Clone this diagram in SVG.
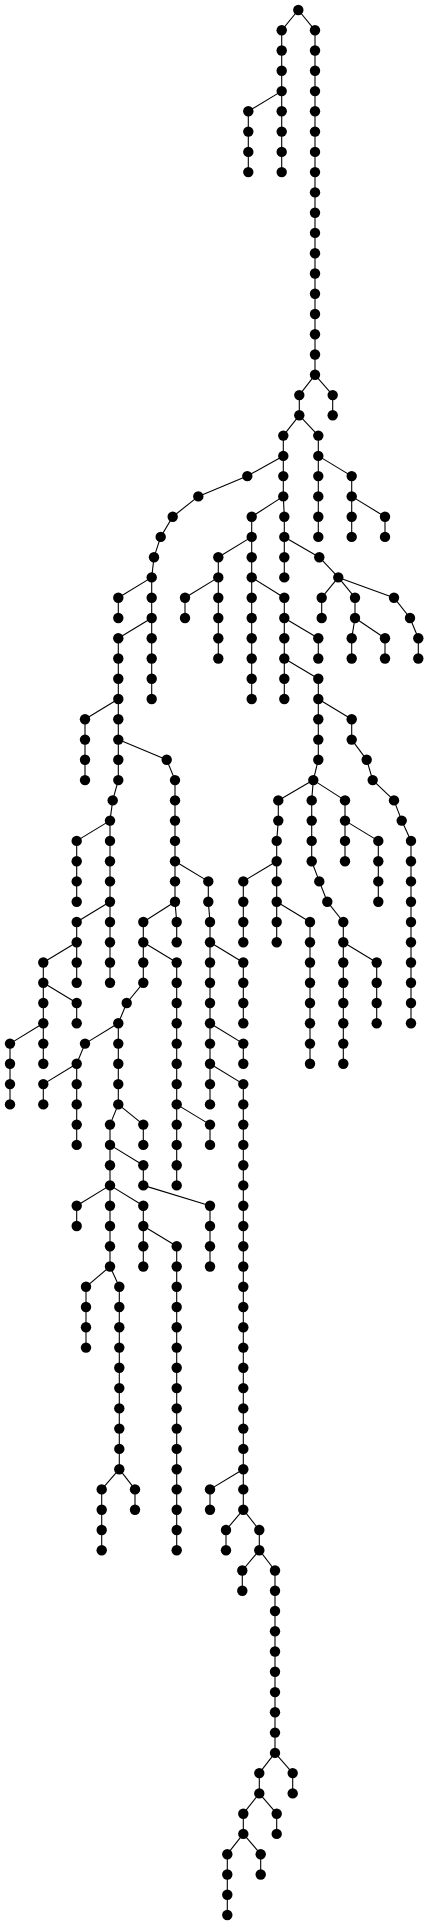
<svg xmlns="http://www.w3.org/2000/svg" width="428" height="1925" viewBox="0 0 428 1925">
<style>
.e path{stroke:#000;stroke-width:1.1;fill:none}
.n circle{fill:#000}
</style>
<rect width="428" height="1925" fill="#fff"/>
<g id="connectors" class="e">
<path d="M298.3 10L281.7 30.3"/><path d="M298.3 10L315 30.3"/>
<path d="M281.7 30.3V50.5"/><path d="M281.7 50.5V70.8"/><path d="M281.7 70.8V91.1"/><path d="M281.7 91.1V111.3"/><path d="M281.7 111.3V131.6"/><path d="M281.7 131.6V151.9"/><path d="M281.7 151.9V172.1"/>
<path d="M281.7 91.1L248.3 111.3"/><path d="M248.3 111.3V131.6"/><path d="M248.3 131.6V151.9"/><path d="M248.3 151.9V172.1"/>
<path d="M315 30.3V50.5"/><path d="M315 50.5V70.8"/><path d="M315 70.8V91.1"/><path d="M315 91.1V111.3"/><path d="M315 111.3V131.6"/><path d="M315 131.6V151.9"/><path d="M315 151.9V172.1"/><path d="M315 172.1V192.4"/><path d="M315 192.4V212.7"/><path d="M315 212.7V232.9"/><path d="M315 232.9V253.2"/><path d="M315 253.2V273.5"/><path d="M315 273.5V293.7"/><path d="M315 293.7V314"/><path d="M315 314V334.3"/><path d="M315 334.3V354.5"/><path d="M315 354.5V374.8"/>
<path d="M315 374.8L299.3 395.1"/><path d="M315 374.8L332.7 395.1"/><path d="M332.7 395.1V415.3"/><path d="M299.3 395.1V415.3"/>
<path d="M299.3 415.3L283.3 435.6"/><path d="M299.3 415.3L318.3 435.6"/>
<path d="M283.3 435.6V455.9"/><path d="M283.3 455.9L247.3 476.1"/><path d="M283.3 455.9V476.1"/><path d="M283.3 476.1V496.4"/><path d="M283.3 496.4L251.7 516.7"/><path d="M283.3 496.4L284.3 516.7"/>
<path d="M318.3 435.6V455.9"/><path d="M318.3 455.9V476.1"/><path d="M318.3 455.9L351.7 476.1"/><path d="M318.3 476.1V496.4"/><path d="M318.3 496.4V516.7"/><path d="M318.3 516.7V536.9"/>
<path d="M351.7 476.1V496.4"/><path d="M351.7 496.4V516.7"/><path d="M351.7 496.4L385 516.7"/><path d="M351.7 516.7V536.9"/><path d="M385 516.7V536.9"/>
<path d="M247.3 476.1L198.3 496.4"/><path d="M198.3 496.4L172.7 516.7"/><path d="M172.7 516.7L160.7 536.9"/><path d="M160.7 536.9L154 557.2"/><path d="M154 557.2L151.7 577.4"/>
<path d="M151.7 577.4L118.3 597.7"/><path d="M151.7 577.4V597.7"/><path d="M118.3 597.7V618"/><path d="M151.7 597.7V618"/>
<path d="M151.7 618L118.3 638.2"/><path d="M151.7 618V638.2"/><path d="M151.7 638.2V658.5"/><path d="M151.7 658.5V678.8"/><path d="M151.7 678.8V699"/>
<path d="M118.3 638.2V658.5"/><path d="M118.3 658.5V678.8"/><path d="M118.3 678.8V699"/><path d="M118.3 699L85 719.3"/><path d="M118.3 699V719.3"/>
<path d="M85 719.3V739.6"/><path d="M85 739.6V759.8"/><path d="M85 759.8V780.1"/>
<path d="M118.3 719.3V739.6"/><path d="M118.3 739.6V759.8"/><path d="M118.3 739.6L166.7 759.8"/><path d="M118.3 759.8V780.1"/>
<path d="M118.3 780.1L112.7 800.4"/><path d="M112.7 800.4L110 820.6"/><path d="M110 820.6L76.7 840.9"/><path d="M110 820.6V840.9"/>
<path d="M76.7 840.9V861.2"/><path d="M76.7 861.2V881.4"/><path d="M76.7 881.4V901.7"/>
<path d="M110 840.9V861.2"/><path d="M110 861.2V881.4"/><path d="M110 881.4V901.7"/><path d="M110 901.7L76.7 922"/><path d="M110 901.7V922"/>
<path d="M110 922V942.2"/><path d="M110 942.2V962.5"/><path d="M110 962.5V982.8"/>
<path d="M76.7 922V942.2"/><path d="M76.7 942.2L43.3 962.5"/><path d="M76.7 942.2V962.5"/><path d="M76.7 962.5V982.8"/>
<path d="M43.3 962.5V982.8"/><path d="M43.3 982.8V1003"/><path d="M43.3 982.8L76.7 1003"/><path d="M76.7 1003V1023.3"/><path d="M43.3 1003V1023.3"/>
<path d="M43.3 1023.3L10 1043.6"/><path d="M43.3 1023.3V1043.6"/><path d="M10 1043.6V1063.8"/><path d="M10 1063.8V1084.1"/><path d="M10 1084.1V1104.4"/><path d="M43.3 1043.6V1063.8"/>
<path d="M166.7 759.8L175 780.1"/><path d="M175 780.1V800.4"/><path d="M175 800.4V820.6"/><path d="M175 820.6V840.9"/><path d="M175 840.9V861.2"/><path d="M175 861.2V881.4"/><path d="M175 881.4V901.7"/>
<path d="M175 861.2L208.3 881.4"/><path d="M175 901.7L143.3 922"/><path d="M175 901.7L176.7 922"/><path d="M176.7 922V942.2"/>
<path d="M143.3 922V942.2"/><path d="M143.3 942.2V962.5"/><path d="M143.3 942.2L176.7 962.5"/><path d="M143.3 962.5V982.8"/>
<path d="M143.3 982.8L126.7 1003"/><path d="M126.7 1003L118.3 1023.3"/><path d="M118.3 1023.3L85 1043.6"/><path d="M118.3 1023.3V1043.6"/>
<path d="M85 1043.6L76.7 1063.8"/><path d="M76.7 1063.8L43.3 1084.1"/><path d="M76.7 1063.8V1084.1"/><path d="M43.3 1084.1V1104.4"/>
<path d="M76.7 1084.1V1104.4"/><path d="M76.7 1104.4V1124.6"/><path d="M76.7 1124.6V1144.9"/>
<path d="M118.3 1043.6V1063.8"/><path d="M118.3 1063.8V1084.1"/><path d="M118.3 1084.1V1104.4"/><path d="M118.3 1104.4L110 1124.6"/><path d="M118.3 1104.4L143.3 1124.6"/><path d="M143.3 1124.6V1144.9"/>
<path d="M110 1124.6V1144.9"/><path d="M110 1144.9V1165.2"/><path d="M110 1144.9L143.3 1165.2"/><path d="M143.3 1165.2V1185.4"/><path d="M143.3 1185.4L210 1205.7"/>
<path d="M210 1205.7V1226"/><path d="M210 1226V1246.2"/><path d="M210 1246.2V1266.5"/>
<path d="M110 1165.2V1185.4"/><path d="M110 1185.4L76.7 1205.7"/><path d="M110 1185.4V1205.7"/><path d="M110 1185.4L143.3 1205.7"/><path d="M76.7 1205.7V1226"/>
<path d="M143.3 1205.7V1226"/><path d="M143.3 1226V1246.2"/><path d="M143.3 1226L176.7 1246.2"/><path d="M143.3 1246.2V1266.5"/>
<path d="M176.7 1246.2V1266.5"/><path d="M176.7 1266.5V1286.8"/><path d="M176.7 1286.8V1307"/><path d="M176.7 1307V1327.3"/><path d="M176.7 1327.3V1347.6"/><path d="M176.7 1347.6V1367.8"/><path d="M176.7 1367.8V1388.1"/><path d="M176.7 1388.1V1408.4"/><path d="M176.7 1408.4V1428.6"/><path d="M176.7 1428.6V1448.9"/><path d="M176.7 1448.9V1469.2"/><path d="M176.7 1469.2V1489.4"/><path d="M176.7 1489.4V1509.7"/><path d="M176.7 1509.7V1530"/><path d="M176.7 1530V1550.2"/>
<path d="M110 1205.7V1226"/><path d="M110 1226V1246.2"/><path d="M110 1246.2V1266.5"/><path d="M110 1266.5L86 1286.8"/><path d="M110 1266.5L119.3 1286.8"/>
<path d="M86 1286.8V1307"/><path d="M86 1307V1327.3"/><path d="M86 1327.3V1347.6"/>
<path d="M119.3 1286.8V1307"/><path d="M119.3 1307V1327.3"/><path d="M119.3 1327.3V1347.6"/><path d="M119.3 1347.6V1367.8"/><path d="M119.3 1367.8V1388.1"/><path d="M119.3 1388.1V1408.4"/><path d="M119.3 1408.4V1428.6"/><path d="M119.3 1428.6V1448.9"/><path d="M119.3 1448.9V1469.2"/>
<path d="M119.3 1469.2L101.7 1489.4"/><path d="M119.3 1469.2L135 1489.4"/><path d="M101.7 1489.4V1509.7"/><path d="M101.7 1509.7V1530"/><path d="M101.7 1530V1550.2"/><path d="M135 1489.4V1509.7"/>
<path d="M176.7 962.5V982.8"/><path d="M176.7 982.8V1003"/><path d="M176.7 1003V1023.3"/><path d="M176.7 1023.3V1043.6"/><path d="M176.7 1043.6V1063.8"/><path d="M176.7 1063.8V1084.1"/><path d="M176.7 1084.1V1104.4"/><path d="M176.7 1104.4V1124.6"/><path d="M176.7 1124.6V1144.9"/><path d="M176.7 1144.9V1165.2"/><path d="M176.7 1165.2V1185.4"/>
<path d="M176.7 1104.4L210 1124.6"/><path d="M210 1124.6V1144.9"/>
<path d="M208.3 881.4V901.7"/><path d="M208.3 901.7L210 922"/><path d="M210 922V942.2"/><path d="M210 942.2V962.5"/><path d="M210 962.5V982.8"/><path d="M210 982.8V1003"/><path d="M210 1003V1023.3"/><path d="M210 1023.3V1043.6"/><path d="M210 1043.6V1063.8"/><path d="M210 1063.8V1084.1"/><path d="M210 1084.1V1104.4"/>
<path d="M210 942.2L243.3 962.5"/><path d="M243.3 962.5V982.8"/><path d="M243.3 982.8V1003"/><path d="M243.3 1003V1023.3"/>
<path d="M210 1023.3L243.3 1043.6"/><path d="M243.3 1043.6V1063.8"/><path d="M210 1063.8L243.3 1084.1"/>
<path d="M243.3 1084.1V1104.4"/><path d="M243.3 1104.4V1124.6"/><path d="M243.3 1124.6V1144.9"/><path d="M243.3 1144.9V1165.2"/><path d="M243.3 1165.2V1185.4"/><path d="M243.3 1185.4V1205.7"/><path d="M243.3 1205.7V1226"/><path d="M243.3 1226V1246.2"/><path d="M243.3 1246.2V1266.5"/><path d="M243.3 1266.5V1286.8"/><path d="M243.3 1286.8V1307"/><path d="M243.3 1307V1327.3"/><path d="M243.3 1327.3V1347.6"/><path d="M243.3 1347.6V1367.8"/><path d="M243.3 1367.8V1388.1"/><path d="M243.3 1388.1V1408.4"/><path d="M243.3 1408.4V1428.6"/><path d="M243.3 1428.6V1448.9"/><path d="M243.3 1448.9V1469.2"/><path d="M243.3 1469.2V1489.4"/><path d="M243.3 1489.4V1509.7"/>
<path d="M243.3 1469.2L210 1489.4"/><path d="M210 1489.4V1509.7"/>
<path d="M243.3 1509.7L226 1530"/><path d="M243.3 1509.7L259.3 1530"/><path d="M226 1530V1550.2"/><path d="M259.3 1530V1550.2"/>
<path d="M259.3 1550.2L242.3 1570.5"/><path d="M259.3 1550.2L275 1570.5"/><path d="M242.3 1570.5V1590.7"/>
<path d="M275 1570.5V1590.7"/><path d="M275 1590.7V1611"/><path d="M275 1611V1631.3"/><path d="M275 1631.3V1651.5"/><path d="M275 1651.5V1671.8"/><path d="M275 1671.8V1692.1"/><path d="M275 1692.1V1712.3"/><path d="M275 1712.3V1732.6"/><path d="M275 1732.6V1752.9"/>
<path d="M275 1752.9L259.3 1773.1"/><path d="M275 1752.9L292.7 1773.1"/><path d="M292.7 1773.1V1793.4"/><path d="M259.3 1773.1V1793.4"/>
<path d="M259.3 1793.4L243.3 1813.7"/><path d="M259.3 1793.4L276.7 1813.7"/><path d="M276.7 1813.7V1833.9"/><path d="M243.3 1813.7V1833.9"/>
<path d="M243.3 1833.9L227.3 1854.2"/><path d="M243.3 1833.9L260.7 1854.2"/><path d="M260.7 1854.2V1874.5"/>
<path d="M227.3 1854.2V1874.5"/><path d="M227.3 1874.5V1894.7"/><path d="M227.3 1894.7V1915"/>
<path d="M284.3 516.7V536.9"/><path d="M284.3 536.9V557.2"/><path d="M284.3 536.9L319.3 557.2"/><path d="M284.3 557.2V577.4"/>
<path d="M319.3 557.2L338.3 577.4"/><path d="M338.3 577.4L321.7 597.7"/><path d="M338.3 577.4L355 597.7"/><path d="M338.3 577.4L394 597.7"/>
<path d="M321.7 597.7V618"/><path d="M355 597.7V618"/><path d="M355 618L351.7 638.2"/><path d="M355 618L385 638.2"/><path d="M351.7 638.2V658.5"/><path d="M385 638.2V658.5"/>
<path d="M394 597.7L410 618"/><path d="M410 618L418.3 638.2"/><path d="M418.3 638.2V658.5"/>
<path d="M251.7 516.7V536.9"/><path d="M251.7 536.9L218.3 557.2"/><path d="M251.7 536.9V557.2"/>
<path d="M218.3 557.2V577.4"/><path d="M218.3 577.4L185 597.7"/><path d="M218.3 577.4V597.7"/><path d="M185 597.7V618"/>
<path d="M218.3 597.7V618"/><path d="M218.3 618V638.2"/><path d="M218.3 638.2V658.5"/>
<path d="M251.7 557.2V577.4"/><path d="M251.7 577.4V597.7"/><path d="M251.7 577.4L284.3 597.7"/>
<path d="M251.7 597.7V618"/><path d="M251.7 618V638.2"/><path d="M251.7 638.2V658.5"/><path d="M251.7 658.5V678.8"/><path d="M251.7 678.8V699"/>
<path d="M284.3 597.7V618"/><path d="M284.3 618V638.2"/><path d="M284.3 618L318.3 638.2"/><path d="M318.3 638.2V658.5"/>
<path d="M284.3 638.2V658.5"/><path d="M284.3 658.5V678.8"/><path d="M284.3 658.5L318.3 678.8"/><path d="M284.3 678.8V699"/>
<path d="M318.3 678.8V699"/><path d="M318.3 699V719.3"/><path d="M318.3 699L351.7 719.3"/><path d="M318.3 719.3V739.6"/><path d="M318.3 739.6V759.8"/>
<path d="M318.3 759.8L313.3 780.1"/><path d="M313.3 780.1L278.3 800.4"/><path d="M313.3 780.1L311.7 800.4"/><path d="M313.3 780.1L345 800.4"/>
<path d="M351.7 719.3V739.6"/><path d="M351.7 739.6L366.7 759.8"/><path d="M366.7 759.8L372.7 780.1"/><path d="M372.7 780.1L394 800.4"/><path d="M394 800.4L401.7 820.6"/><path d="M401.7 820.6L411 840.9"/>
<path d="M411 840.9V861.2"/><path d="M411 861.2V881.4"/><path d="M411 881.4V901.7"/><path d="M411 901.7V922"/><path d="M411 922V942.2"/><path d="M411 942.2V962.5"/><path d="M411 962.5V982.8"/><path d="M411 982.8V1003"/><path d="M411 1003V1023.3"/>
<path d="M278.3 800.4V820.6"/><path d="M278.3 820.6L276.7 840.9"/><path d="M276.7 840.9V861.2"/><path d="M276.7 861.2L243.3 881.4"/><path d="M276.7 861.2V881.4"/>
<path d="M243.3 881.4V901.7"/><path d="M243.3 901.7V922"/><path d="M243.3 922V942.2"/>
<path d="M276.7 881.4V901.7"/><path d="M276.7 901.7V922"/><path d="M276.7 901.7L310 922"/><path d="M276.7 922V942.2"/>
<path d="M310 922V942.2"/><path d="M310 942.2V962.5"/><path d="M310 962.5V982.8"/><path d="M310 982.8V1003"/><path d="M310 1003V1023.3"/><path d="M310 1023.3V1043.6"/><path d="M310 1043.6V1063.8"/>
<path d="M311.7 800.4V820.6"/><path d="M311.7 820.6V840.9"/><path d="M311.7 840.9V861.2"/><path d="M311.7 861.2L319.3 881.4"/><path d="M319.3 881.4L327.3 901.7"/><path d="M327.3 901.7L343.3 922"/>
<path d="M343.3 922V942.2"/><path d="M343.3 942.2V962.5"/><path d="M343.3 942.2L376.7 962.5"/>
<path d="M343.3 962.5V982.8"/><path d="M343.3 982.8V1003"/><path d="M343.3 1003V1023.3"/><path d="M343.3 1023.3V1043.6"/><path d="M343.3 1043.6V1063.8"/>
<path d="M376.7 962.5V982.8"/><path d="M376.7 982.8V1003"/><path d="M376.7 1003V1023.3"/>
<path d="M345 800.4V820.6"/><path d="M345 820.6V840.9"/><path d="M345 820.6L378.3 840.9"/><path d="M345 840.9V861.2"/>
<path d="M378.3 840.9V861.2"/><path d="M378.3 861.2V881.4"/><path d="M378.3 881.4V901.7"/>
</g>
<g id="nodes" class="n">
<g id="n0"><circle cx="298.3" cy="10" r="5.2"/></g>
<g id="n-a1"><circle cx="281.7" cy="30.3" r="5.2"/></g><g id="n-a2"><circle cx="281.7" cy="50.5" r="5.2"/></g><g id="n-a3"><circle cx="281.7" cy="70.8" r="5.2"/></g><g id="n-a4"><circle cx="281.7" cy="91.1" r="5.2"/></g><g id="n-a5"><circle cx="281.7" cy="111.3" r="5.2"/></g><g id="n-a6"><circle cx="281.7" cy="131.6" r="5.2"/></g><g id="n-a7"><circle cx="281.7" cy="151.9" r="5.2"/></g><g id="n-a8"><circle cx="281.7" cy="172.1" r="5.2"/></g>
<g id="n-b5"><circle cx="248.3" cy="111.3" r="5.2"/></g><g id="n-b6"><circle cx="248.3" cy="131.6" r="5.2"/></g><g id="n-b7"><circle cx="248.3" cy="151.9" r="5.2"/></g><g id="n-b8"><circle cx="248.3" cy="172.1" r="5.2"/></g>
<g id="n-c1"><circle cx="315" cy="30.3" r="5.2"/></g><g id="n-c2"><circle cx="315" cy="50.5" r="5.2"/></g><g id="n-c3"><circle cx="315" cy="70.8" r="5.2"/></g><g id="n-c4"><circle cx="315" cy="91.1" r="5.2"/></g><g id="n-c5"><circle cx="315" cy="111.3" r="5.2"/></g><g id="n-c6"><circle cx="315" cy="131.6" r="5.2"/></g><g id="n-c7"><circle cx="315" cy="151.9" r="5.2"/></g><g id="n-c8"><circle cx="315" cy="172.1" r="5.2"/></g><g id="n-c9"><circle cx="315" cy="192.4" r="5.2"/></g><g id="n-c10"><circle cx="315" cy="212.7" r="5.2"/></g><g id="n-c11"><circle cx="315" cy="232.9" r="5.2"/></g><g id="n-c12"><circle cx="315" cy="253.2" r="5.2"/></g><g id="n-c13"><circle cx="315" cy="273.5" r="5.2"/></g><g id="n-c14"><circle cx="315" cy="293.7" r="5.2"/></g><g id="n-c15"><circle cx="315" cy="314" r="5.2"/></g><g id="n-c16"><circle cx="315" cy="334.3" r="5.2"/></g><g id="n-c17"><circle cx="315" cy="354.5" r="5.2"/></g><g id="n-c18"><circle cx="315" cy="374.8" r="5.2"/></g>
<g id="n-d19"><circle cx="299.3" cy="395.1" r="5.2"/></g><g id="n-d20"><circle cx="299.3" cy="415.3" r="5.2"/></g>
<g id="n-e19"><circle cx="332.7" cy="395.1" r="5.2"/></g><g id="n-e20"><circle cx="332.7" cy="415.3" r="5.2"/></g>
<g id="n-f21"><circle cx="283.3" cy="435.6" r="5.2"/></g><g id="n-f22"><circle cx="283.3" cy="455.9" r="5.2"/></g><g id="n-f23"><circle cx="283.3" cy="476.1" r="5.2"/></g><g id="n-f24"><circle cx="283.3" cy="496.4" r="5.2"/></g>
<g id="n-g21"><circle cx="318.3" cy="435.6" r="5.2"/></g><g id="n-g22"><circle cx="318.3" cy="455.9" r="5.2"/></g><g id="n-g23"><circle cx="318.3" cy="476.1" r="5.2"/></g><g id="n-g24"><circle cx="318.3" cy="496.4" r="5.2"/></g><g id="n-g25"><circle cx="318.3" cy="516.7" r="5.2"/></g><g id="n-g26"><circle cx="318.3" cy="536.9" r="5.2"/></g>
<g id="n-h23"><circle cx="247.3" cy="476.1" r="5.2"/></g>
<g id="n-i23"><circle cx="351.7" cy="476.1" r="5.2"/></g><g id="n-i24"><circle cx="351.7" cy="496.4" r="5.2"/></g><g id="n-i25"><circle cx="351.7" cy="516.7" r="5.2"/></g><g id="n-i26"><circle cx="351.7" cy="536.9" r="5.2"/></g>
<g id="n-j25"><circle cx="385" cy="516.7" r="5.2"/></g><g id="n-j26"><circle cx="385" cy="536.9" r="5.2"/></g>
<g id="n-k24"><circle cx="198.3" cy="496.4" r="5.2"/></g><g id="n-k25"><circle cx="172.7" cy="516.7" r="5.2"/></g><g id="n-k26"><circle cx="160.7" cy="536.9" r="5.2"/></g><g id="n-k27"><circle cx="154" cy="557.2" r="5.2"/></g><g id="n-k28"><circle cx="151.7" cy="577.4" r="5.2"/></g><g id="n-k29"><circle cx="151.7" cy="597.7" r="5.2"/></g><g id="n-k30"><circle cx="151.7" cy="618" r="5.2"/></g><g id="n-k31"><circle cx="151.7" cy="638.2" r="5.2"/></g><g id="n-k32"><circle cx="151.7" cy="658.5" r="5.2"/></g><g id="n-k33"><circle cx="151.7" cy="678.8" r="5.2"/></g><g id="n-k34"><circle cx="151.7" cy="699" r="5.2"/></g>
<g id="n-l25"><circle cx="251.7" cy="516.7" r="5.2"/></g><g id="n-l26"><circle cx="251.7" cy="536.9" r="5.2"/></g><g id="n-l27"><circle cx="251.7" cy="557.2" r="5.2"/></g><g id="n-l28"><circle cx="251.7" cy="577.4" r="5.2"/></g><g id="n-l29"><circle cx="251.7" cy="597.7" r="5.2"/></g><g id="n-l30"><circle cx="251.7" cy="618" r="5.2"/></g><g id="n-l31"><circle cx="251.7" cy="638.2" r="5.2"/></g><g id="n-l32"><circle cx="251.7" cy="658.5" r="5.2"/></g><g id="n-l33"><circle cx="251.7" cy="678.8" r="5.2"/></g><g id="n-l34"><circle cx="251.7" cy="699" r="5.2"/></g>
<g id="n-m25"><circle cx="284.3" cy="516.7" r="5.2"/></g><g id="n-m26"><circle cx="284.3" cy="536.9" r="5.2"/></g><g id="n-m27"><circle cx="284.3" cy="557.2" r="5.2"/></g><g id="n-m28"><circle cx="284.3" cy="577.4" r="5.2"/></g>
<g id="n-o27"><circle cx="319.3" cy="557.2" r="5.2"/></g><g id="n-p28"><circle cx="338.3" cy="577.4" r="5.2"/></g>
<g id="n-q29"><circle cx="321.7" cy="597.7" r="5.2"/></g><g id="n-q30"><circle cx="321.7" cy="618" r="5.2"/></g>
<g id="n-s29"><circle cx="355" cy="597.7" r="5.2"/></g><g id="n-s30"><circle cx="355" cy="618" r="5.2"/></g>
<g id="n-t29"><circle cx="394" cy="597.7" r="5.2"/></g><g id="n-t30"><circle cx="410" cy="618" r="5.2"/></g><g id="n-t31"><circle cx="418.3" cy="638.2" r="5.2"/></g><g id="n-t32"><circle cx="418.3" cy="658.5" r="5.2"/></g>
<g id="n-u31"><circle cx="351.7" cy="638.2" r="5.2"/></g><g id="n-u32"><circle cx="351.7" cy="658.5" r="5.2"/></g>
<g id="n-v31"><circle cx="385" cy="638.2" r="5.2"/></g><g id="n-v32"><circle cx="385" cy="658.5" r="5.2"/></g>
<g id="n-w27"><circle cx="218.3" cy="557.2" r="5.2"/></g><g id="n-w28"><circle cx="218.3" cy="577.4" r="5.2"/></g><g id="n-w29"><circle cx="218.3" cy="597.7" r="5.2"/></g><g id="n-w30"><circle cx="218.3" cy="618" r="5.2"/></g><g id="n-w31"><circle cx="218.3" cy="638.2" r="5.2"/></g><g id="n-w32"><circle cx="218.3" cy="658.5" r="5.2"/></g>
<g id="n-x29"><circle cx="185" cy="597.7" r="5.2"/></g><g id="n-x30"><circle cx="185" cy="618" r="5.2"/></g>
<g id="n-y29"><circle cx="284.3" cy="597.7" r="5.2"/></g><g id="n-y30"><circle cx="284.3" cy="618" r="5.2"/></g><g id="n-y31"><circle cx="284.3" cy="638.2" r="5.2"/></g><g id="n-y32"><circle cx="284.3" cy="658.5" r="5.2"/></g><g id="n-y33"><circle cx="284.3" cy="678.8" r="5.2"/></g><g id="n-y34"><circle cx="284.3" cy="699" r="5.2"/></g>
<g id="n-z31"><circle cx="318.3" cy="638.2" r="5.2"/></g><g id="n-z32"><circle cx="318.3" cy="658.5" r="5.2"/></g>
<g id="n-aa33"><circle cx="318.3" cy="678.8" r="5.2"/></g><g id="n-aa34"><circle cx="318.3" cy="699" r="5.2"/></g><g id="n-aa35"><circle cx="318.3" cy="719.3" r="5.2"/></g><g id="n-aa36"><circle cx="318.3" cy="739.6" r="5.2"/></g><g id="n-aa37"><circle cx="318.3" cy="759.8" r="5.2"/></g>
<g id="n-bb35"><circle cx="351.7" cy="719.3" r="5.2"/></g><g id="n-bb36"><circle cx="351.7" cy="739.6" r="5.2"/></g>
<g id="n-cc38"><circle cx="313.3" cy="780.1" r="5.2"/></g>
<g id="n-dd39"><circle cx="278.3" cy="800.4" r="5.2"/></g><g id="n-dd40"><circle cx="278.3" cy="820.6" r="5.2"/></g><g id="n-dd41"><circle cx="276.7" cy="840.9" r="5.2"/></g><g id="n-dd42"><circle cx="276.7" cy="861.2" r="5.2"/></g><g id="n-dd43"><circle cx="276.7" cy="881.4" r="5.2"/></g><g id="n-dd44"><circle cx="276.7" cy="901.7" r="5.2"/></g><g id="n-dd45"><circle cx="276.7" cy="922" r="5.2"/></g><g id="n-dd46"><circle cx="276.7" cy="942.2" r="5.2"/></g>
<g id="n-ee39"><circle cx="311.7" cy="800.4" r="5.2"/></g><g id="n-ee40"><circle cx="311.7" cy="820.6" r="5.2"/></g><g id="n-ee41"><circle cx="311.7" cy="840.9" r="5.2"/></g><g id="n-ee42"><circle cx="311.7" cy="861.2" r="5.2"/></g>
<g id="n-ff39"><circle cx="345" cy="800.4" r="5.2"/></g><g id="n-ff40"><circle cx="345" cy="820.6" r="5.2"/></g><g id="n-ff41"><circle cx="345" cy="840.9" r="5.2"/></g><g id="n-ff42"><circle cx="345" cy="861.2" r="5.2"/></g>
<g id="n-gg37"><circle cx="366.7" cy="759.8" r="5.2"/></g><g id="n-gg38"><circle cx="372.7" cy="780.1" r="5.2"/></g><g id="n-gg39"><circle cx="394" cy="800.4" r="5.2"/></g><g id="n-gg40"><circle cx="401.7" cy="820.6" r="5.2"/></g><g id="n-gg41"><circle cx="411" cy="840.9" r="5.2"/></g><g id="n-gg42"><circle cx="411" cy="861.2" r="5.2"/></g><g id="n-gg43"><circle cx="411" cy="881.4" r="5.2"/></g><g id="n-gg44"><circle cx="411" cy="901.7" r="5.2"/></g><g id="n-gg45"><circle cx="411" cy="922" r="5.2"/></g><g id="n-gg46"><circle cx="411" cy="942.2" r="5.2"/></g><g id="n-gg47"><circle cx="411" cy="962.5" r="5.2"/></g><g id="n-gg48"><circle cx="411" cy="982.8" r="5.2"/></g><g id="n-gg49"><circle cx="411" cy="1003" r="5.2"/></g><g id="n-gg50"><circle cx="411" cy="1023.3" r="5.2"/></g>
<g id="n-hh43"><circle cx="243.3" cy="881.4" r="5.2"/></g><g id="n-hh44"><circle cx="243.3" cy="901.7" r="5.2"/></g><g id="n-hh45"><circle cx="243.3" cy="922" r="5.2"/></g><g id="n-hh46"><circle cx="243.3" cy="942.2" r="5.2"/></g>
<g id="n-ii45"><circle cx="310" cy="922" r="5.2"/></g><g id="n-ii46"><circle cx="310" cy="942.2" r="5.2"/></g><g id="n-ii47"><circle cx="310" cy="962.5" r="5.2"/></g><g id="n-ii48"><circle cx="310" cy="982.8" r="5.2"/></g><g id="n-ii49"><circle cx="310" cy="1003" r="5.2"/></g><g id="n-ii50"><circle cx="310" cy="1023.3" r="5.2"/></g><g id="n-ii51"><circle cx="310" cy="1043.6" r="5.2"/></g><g id="n-ii52"><circle cx="310" cy="1063.8" r="5.2"/></g>
<g id="n-jj43"><circle cx="319.3" cy="881.4" r="5.2"/></g><g id="n-jj44"><circle cx="327.3" cy="901.7" r="5.2"/></g><g id="n-jj45"><circle cx="343.3" cy="922" r="5.2"/></g><g id="n-jj46"><circle cx="343.3" cy="942.2" r="5.2"/></g><g id="n-jj47"><circle cx="343.3" cy="962.5" r="5.2"/></g><g id="n-jj48"><circle cx="343.3" cy="982.8" r="5.2"/></g><g id="n-jj49"><circle cx="343.3" cy="1003" r="5.2"/></g><g id="n-jj50"><circle cx="343.3" cy="1023.3" r="5.2"/></g><g id="n-jj51"><circle cx="343.3" cy="1043.6" r="5.2"/></g><g id="n-jj52"><circle cx="343.3" cy="1063.8" r="5.2"/></g>
<g id="n-kk47"><circle cx="376.7" cy="962.5" r="5.2"/></g><g id="n-kk48"><circle cx="376.7" cy="982.8" r="5.2"/></g><g id="n-kk49"><circle cx="376.7" cy="1003" r="5.2"/></g><g id="n-kk50"><circle cx="376.7" cy="1023.3" r="5.2"/></g>
<g id="n-ll41"><circle cx="378.3" cy="840.9" r="5.2"/></g><g id="n-ll42"><circle cx="378.3" cy="861.2" r="5.2"/></g><g id="n-ll43"><circle cx="378.3" cy="881.4" r="5.2"/></g><g id="n-ll44"><circle cx="378.3" cy="901.7" r="5.2"/></g>
<g id="n-mm29"><circle cx="118.3" cy="597.7" r="5.2"/></g><g id="n-mm30"><circle cx="118.3" cy="618" r="5.2"/></g>
<g id="n-nn31"><circle cx="118.3" cy="638.2" r="5.2"/></g><g id="n-nn32"><circle cx="118.3" cy="658.5" r="5.2"/></g><g id="n-nn33"><circle cx="118.3" cy="678.8" r="5.2"/></g><g id="n-nn34"><circle cx="118.3" cy="699" r="5.2"/></g><g id="n-nn35"><circle cx="118.3" cy="719.3" r="5.2"/></g><g id="n-nn36"><circle cx="118.3" cy="739.6" r="5.2"/></g><g id="n-nn37"><circle cx="118.3" cy="759.8" r="5.2"/></g><g id="n-nn38"><circle cx="118.3" cy="780.1" r="5.2"/></g>
<g id="n-oo35"><circle cx="85" cy="719.3" r="5.2"/></g><g id="n-oo36"><circle cx="85" cy="739.6" r="5.2"/></g><g id="n-oo37"><circle cx="85" cy="759.8" r="5.2"/></g><g id="n-oo38"><circle cx="85" cy="780.1" r="5.2"/></g>
<g id="n-pp37"><circle cx="166.7" cy="759.8" r="5.2"/></g><g id="n-pp38"><circle cx="175" cy="780.1" r="5.2"/></g><g id="n-pp39"><circle cx="175" cy="800.4" r="5.2"/></g><g id="n-pp40"><circle cx="175" cy="820.6" r="5.2"/></g><g id="n-pp41"><circle cx="175" cy="840.9" r="5.2"/></g><g id="n-pp42"><circle cx="175" cy="861.2" r="5.2"/></g><g id="n-pp43"><circle cx="175" cy="881.4" r="5.2"/></g><g id="n-pp44"><circle cx="175" cy="901.7" r="5.2"/></g>
<g id="n-qq39"><circle cx="112.7" cy="800.4" r="5.2"/></g><g id="n-qq40"><circle cx="110" cy="820.6" r="5.2"/></g><g id="n-qq41"><circle cx="110" cy="840.9" r="5.2"/></g><g id="n-qq42"><circle cx="110" cy="861.2" r="5.2"/></g><g id="n-qq43"><circle cx="110" cy="881.4" r="5.2"/></g><g id="n-qq44"><circle cx="110" cy="901.7" r="5.2"/></g><g id="n-qq45"><circle cx="110" cy="922" r="5.2"/></g><g id="n-qq46"><circle cx="110" cy="942.2" r="5.2"/></g><g id="n-qq47"><circle cx="110" cy="962.5" r="5.2"/></g><g id="n-qq48"><circle cx="110" cy="982.8" r="5.2"/></g>
<g id="n-rr41"><circle cx="76.7" cy="840.9" r="5.2"/></g><g id="n-rr42"><circle cx="76.7" cy="861.2" r="5.2"/></g><g id="n-rr43"><circle cx="76.7" cy="881.4" r="5.2"/></g><g id="n-rr44"><circle cx="76.7" cy="901.7" r="5.2"/></g>
<g id="n-ss45"><circle cx="76.7" cy="922" r="5.2"/></g><g id="n-ss46"><circle cx="76.7" cy="942.2" r="5.2"/></g><g id="n-ss47"><circle cx="76.7" cy="962.5" r="5.2"/></g><g id="n-ss48"><circle cx="76.7" cy="982.8" r="5.2"/></g>
<g id="n-tt47"><circle cx="43.3" cy="962.5" r="5.2"/></g><g id="n-tt48"><circle cx="43.3" cy="982.8" r="5.2"/></g><g id="n-tt49"><circle cx="43.3" cy="1003" r="5.2"/></g><g id="n-tt50"><circle cx="43.3" cy="1023.3" r="5.2"/></g><g id="n-tt51"><circle cx="43.3" cy="1043.6" r="5.2"/></g><g id="n-tt52"><circle cx="43.3" cy="1063.8" r="5.2"/></g>
<g id="n-uu49"><circle cx="76.7" cy="1003" r="5.2"/></g><g id="n-uu50"><circle cx="76.7" cy="1023.3" r="5.2"/></g>
<g id="n-vv51"><circle cx="10" cy="1043.6" r="5.2"/></g><g id="n-vv52"><circle cx="10" cy="1063.8" r="5.2"/></g><g id="n-vv53"><circle cx="10" cy="1084.1" r="5.2"/></g><g id="n-vv54"><circle cx="10" cy="1104.4" r="5.2"/></g>
<g id="n-ww43"><circle cx="208.3" cy="881.4" r="5.2"/></g><g id="n-ww44"><circle cx="208.3" cy="901.7" r="5.2"/></g><g id="n-ww45"><circle cx="210" cy="922" r="5.2"/></g><g id="n-ww46"><circle cx="210" cy="942.2" r="5.2"/></g><g id="n-ww47"><circle cx="210" cy="962.5" r="5.2"/></g><g id="n-ww48"><circle cx="210" cy="982.8" r="5.2"/></g><g id="n-ww49"><circle cx="210" cy="1003" r="5.2"/></g><g id="n-ww50"><circle cx="210" cy="1023.3" r="5.2"/></g><g id="n-ww51"><circle cx="210" cy="1043.6" r="5.2"/></g><g id="n-ww52"><circle cx="210" cy="1063.8" r="5.2"/></g><g id="n-ww53"><circle cx="210" cy="1084.1" r="5.2"/></g><g id="n-ww54"><circle cx="210" cy="1104.4" r="5.2"/></g>
<g id="n-xx45"><circle cx="143.3" cy="922" r="5.2"/></g><g id="n-xx46"><circle cx="143.3" cy="942.2" r="5.2"/></g><g id="n-xx47"><circle cx="143.3" cy="962.5" r="5.2"/></g><g id="n-xx48"><circle cx="143.3" cy="982.8" r="5.2"/></g>
<g id="n-yy45"><circle cx="176.7" cy="922" r="5.2"/></g><g id="n-yy46"><circle cx="176.7" cy="942.2" r="5.2"/></g>
<g id="n-zz47"><circle cx="176.7" cy="962.5" r="5.2"/></g><g id="n-zz48"><circle cx="176.7" cy="982.8" r="5.2"/></g><g id="n-zz49"><circle cx="176.7" cy="1003" r="5.2"/></g><g id="n-zz50"><circle cx="176.7" cy="1023.3" r="5.2"/></g><g id="n-zz51"><circle cx="176.7" cy="1043.6" r="5.2"/></g><g id="n-zz52"><circle cx="176.7" cy="1063.8" r="5.2"/></g><g id="n-zz53"><circle cx="176.7" cy="1084.1" r="5.2"/></g><g id="n-zz54"><circle cx="176.7" cy="1104.4" r="5.2"/></g><g id="n-zz55"><circle cx="176.7" cy="1124.6" r="5.2"/></g><g id="n-zz56"><circle cx="176.7" cy="1144.9" r="5.2"/></g><g id="n-zz57"><circle cx="176.7" cy="1165.2" r="5.2"/></g><g id="n-zz58"><circle cx="176.7" cy="1185.4" r="5.2"/></g>
<g id="n-A49"><circle cx="126.7" cy="1003" r="5.2"/></g><g id="n-A50"><circle cx="118.3" cy="1023.3" r="5.2"/></g><g id="n-A51"><circle cx="118.3" cy="1043.6" r="5.2"/></g><g id="n-A52"><circle cx="118.3" cy="1063.8" r="5.2"/></g><g id="n-A53"><circle cx="118.3" cy="1084.1" r="5.2"/></g><g id="n-A54"><circle cx="118.3" cy="1104.4" r="5.2"/></g>
<g id="n-B51"><circle cx="85" cy="1043.6" r="5.2"/></g><g id="n-B52"><circle cx="76.7" cy="1063.8" r="5.2"/></g><g id="n-B53"><circle cx="76.7" cy="1084.1" r="5.2"/></g><g id="n-B54"><circle cx="76.7" cy="1104.4" r="5.2"/></g><g id="n-B55"><circle cx="76.7" cy="1124.6" r="5.2"/></g><g id="n-B56"><circle cx="76.7" cy="1144.9" r="5.2"/></g>
<g id="n-C53"><circle cx="43.3" cy="1084.1" r="5.2"/></g><g id="n-C54"><circle cx="43.3" cy="1104.4" r="5.2"/></g>
<g id="n-D55"><circle cx="110" cy="1124.6" r="5.2"/></g><g id="n-D56"><circle cx="110" cy="1144.9" r="5.2"/></g><g id="n-D57"><circle cx="110" cy="1165.2" r="5.2"/></g><g id="n-D58"><circle cx="110" cy="1185.4" r="5.2"/></g><g id="n-D59"><circle cx="110" cy="1205.7" r="5.2"/></g><g id="n-D60"><circle cx="110" cy="1226" r="5.2"/></g><g id="n-D61"><circle cx="110" cy="1246.2" r="5.2"/></g><g id="n-D62"><circle cx="110" cy="1266.5" r="5.2"/></g>
<g id="n-E55"><circle cx="143.3" cy="1124.6" r="5.2"/></g><g id="n-E56"><circle cx="143.3" cy="1144.9" r="5.2"/></g>
<g id="n-F57"><circle cx="143.3" cy="1165.2" r="5.2"/></g><g id="n-F58"><circle cx="143.3" cy="1185.4" r="5.2"/></g>
<g id="n-G59"><circle cx="210" cy="1205.7" r="5.2"/></g><g id="n-G60"><circle cx="210" cy="1226" r="5.2"/></g><g id="n-G61"><circle cx="210" cy="1246.2" r="5.2"/></g><g id="n-G62"><circle cx="210" cy="1266.5" r="5.2"/></g>
<g id="n-H59"><circle cx="76.7" cy="1205.7" r="5.2"/></g><g id="n-H60"><circle cx="76.7" cy="1226" r="5.2"/></g>
<g id="n-I59"><circle cx="143.3" cy="1205.7" r="5.2"/></g><g id="n-I60"><circle cx="143.3" cy="1226" r="5.2"/></g><g id="n-I61"><circle cx="143.3" cy="1246.2" r="5.2"/></g><g id="n-I62"><circle cx="143.3" cy="1266.5" r="5.2"/></g>
<g id="n-J61"><circle cx="176.7" cy="1246.2" r="5.2"/></g><g id="n-J62"><circle cx="176.7" cy="1266.5" r="5.2"/></g><g id="n-J63"><circle cx="176.7" cy="1286.8" r="5.2"/></g><g id="n-J64"><circle cx="176.7" cy="1307" r="5.2"/></g><g id="n-J65"><circle cx="176.7" cy="1327.3" r="5.2"/></g><g id="n-J66"><circle cx="176.7" cy="1347.6" r="5.2"/></g><g id="n-J67"><circle cx="176.7" cy="1367.8" r="5.2"/></g><g id="n-J68"><circle cx="176.7" cy="1388.1" r="5.2"/></g><g id="n-J69"><circle cx="176.7" cy="1408.4" r="5.2"/></g><g id="n-J70"><circle cx="176.7" cy="1428.6" r="5.2"/></g><g id="n-J71"><circle cx="176.7" cy="1448.9" r="5.2"/></g><g id="n-J72"><circle cx="176.7" cy="1469.2" r="5.2"/></g><g id="n-J73"><circle cx="176.7" cy="1489.4" r="5.2"/></g><g id="n-J74"><circle cx="176.7" cy="1509.7" r="5.2"/></g><g id="n-J75"><circle cx="176.7" cy="1530" r="5.2"/></g><g id="n-J76"><circle cx="176.7" cy="1550.2" r="5.2"/></g>
<g id="n-K63"><circle cx="86" cy="1286.8" r="5.2"/></g><g id="n-K64"><circle cx="86" cy="1307" r="5.2"/></g><g id="n-K65"><circle cx="86" cy="1327.3" r="5.2"/></g><g id="n-K66"><circle cx="86" cy="1347.6" r="5.2"/></g>
<g id="n-L63"><circle cx="119.3" cy="1286.8" r="5.2"/></g><g id="n-L64"><circle cx="119.3" cy="1307" r="5.2"/></g><g id="n-L65"><circle cx="119.3" cy="1327.3" r="5.2"/></g><g id="n-L66"><circle cx="119.3" cy="1347.6" r="5.2"/></g><g id="n-L67"><circle cx="119.3" cy="1367.8" r="5.2"/></g><g id="n-L68"><circle cx="119.3" cy="1388.1" r="5.2"/></g><g id="n-L69"><circle cx="119.3" cy="1408.4" r="5.2"/></g><g id="n-L70"><circle cx="119.3" cy="1428.6" r="5.2"/></g><g id="n-L71"><circle cx="119.3" cy="1448.9" r="5.2"/></g><g id="n-L72"><circle cx="119.3" cy="1469.2" r="5.2"/></g>
<g id="n-M73"><circle cx="101.7" cy="1489.4" r="5.2"/></g><g id="n-M74"><circle cx="101.7" cy="1509.7" r="5.2"/></g><g id="n-M75"><circle cx="101.7" cy="1530" r="5.2"/></g><g id="n-M76"><circle cx="101.7" cy="1550.2" r="5.2"/></g>
<g id="n-N73"><circle cx="135" cy="1489.4" r="5.2"/></g><g id="n-N74"><circle cx="135" cy="1509.7" r="5.2"/></g>
<g id="n-O55"><circle cx="210" cy="1124.6" r="5.2"/></g><g id="n-O56"><circle cx="210" cy="1144.9" r="5.2"/></g>
<g id="n-P47"><circle cx="243.3" cy="962.5" r="5.2"/></g><g id="n-P48"><circle cx="243.3" cy="982.8" r="5.2"/></g><g id="n-P49"><circle cx="243.3" cy="1003" r="5.2"/></g><g id="n-P50"><circle cx="243.3" cy="1023.3" r="5.2"/></g>
<g id="n-Q51"><circle cx="243.3" cy="1043.6" r="5.2"/></g><g id="n-Q52"><circle cx="243.3" cy="1063.8" r="5.2"/></g>
<g id="n-R53"><circle cx="243.3" cy="1084.1" r="5.2"/></g><g id="n-R54"><circle cx="243.3" cy="1104.4" r="5.2"/></g><g id="n-R55"><circle cx="243.3" cy="1124.6" r="5.2"/></g><g id="n-R56"><circle cx="243.3" cy="1144.9" r="5.2"/></g><g id="n-R57"><circle cx="243.3" cy="1165.2" r="5.2"/></g><g id="n-R58"><circle cx="243.3" cy="1185.4" r="5.2"/></g><g id="n-R59"><circle cx="243.3" cy="1205.7" r="5.2"/></g><g id="n-R60"><circle cx="243.3" cy="1226" r="5.2"/></g><g id="n-R61"><circle cx="243.3" cy="1246.2" r="5.2"/></g><g id="n-R62"><circle cx="243.3" cy="1266.5" r="5.2"/></g><g id="n-R63"><circle cx="243.3" cy="1286.8" r="5.2"/></g><g id="n-R64"><circle cx="243.3" cy="1307" r="5.2"/></g><g id="n-R65"><circle cx="243.3" cy="1327.3" r="5.2"/></g><g id="n-R66"><circle cx="243.3" cy="1347.6" r="5.2"/></g><g id="n-R67"><circle cx="243.3" cy="1367.8" r="5.2"/></g><g id="n-R68"><circle cx="243.3" cy="1388.1" r="5.2"/></g><g id="n-R69"><circle cx="243.3" cy="1408.4" r="5.2"/></g><g id="n-R70"><circle cx="243.3" cy="1428.6" r="5.2"/></g><g id="n-R71"><circle cx="243.3" cy="1448.9" r="5.2"/></g><g id="n-R72"><circle cx="243.3" cy="1469.2" r="5.2"/></g><g id="n-R73"><circle cx="243.3" cy="1489.4" r="5.2"/></g><g id="n-R74"><circle cx="243.3" cy="1509.7" r="5.2"/></g>
<g id="n-S73"><circle cx="210" cy="1489.4" r="5.2"/></g><g id="n-S74"><circle cx="210" cy="1509.7" r="5.2"/></g>
<g id="n-T75"><circle cx="226" cy="1530" r="5.2"/></g><g id="n-T76"><circle cx="226" cy="1550.2" r="5.2"/></g>
<g id="n-U75"><circle cx="259.3" cy="1530" r="5.2"/></g><g id="n-U76"><circle cx="259.3" cy="1550.2" r="5.2"/></g>
<g id="n-V77"><circle cx="242.3" cy="1570.5" r="5.2"/></g><g id="n-V78"><circle cx="242.3" cy="1590.7" r="5.2"/></g>
<g id="n-W77"><circle cx="275" cy="1570.5" r="5.2"/></g><g id="n-W78"><circle cx="275" cy="1590.7" r="5.2"/></g><g id="n-W79"><circle cx="275" cy="1611" r="5.2"/></g><g id="n-W80"><circle cx="275" cy="1631.3" r="5.2"/></g><g id="n-W81"><circle cx="275" cy="1651.5" r="5.2"/></g><g id="n-W82"><circle cx="275" cy="1671.8" r="5.2"/></g><g id="n-W83"><circle cx="275" cy="1692.1" r="5.2"/></g><g id="n-W84"><circle cx="275" cy="1712.3" r="5.2"/></g><g id="n-W85"><circle cx="275" cy="1732.6" r="5.2"/></g><g id="n-W86"><circle cx="275" cy="1752.9" r="5.2"/></g>
<g id="n-X87"><circle cx="259.3" cy="1773.1" r="5.2"/></g><g id="n-X88"><circle cx="259.3" cy="1793.4" r="5.2"/></g>
<g id="n-Y87"><circle cx="292.7" cy="1773.1" r="5.2"/></g><g id="n-Y88"><circle cx="292.7" cy="1793.4" r="5.2"/></g>
<g id="n-Z89"><circle cx="243.3" cy="1813.7" r="5.2"/></g><g id="n-Z90"><circle cx="243.3" cy="1833.9" r="5.2"/></g>
<g id="n-AA89"><circle cx="276.7" cy="1813.7" r="5.2"/></g><g id="n-AA90"><circle cx="276.7" cy="1833.9" r="5.2"/></g>
<g id="n-BB91"><circle cx="227.3" cy="1854.2" r="5.2"/></g><g id="n-BB92"><circle cx="227.3" cy="1874.5" r="5.2"/></g><g id="n-BB93"><circle cx="227.3" cy="1894.7" r="5.2"/></g><g id="n-BB94"><circle cx="227.3" cy="1915" r="5.2"/></g>
<g id="n-CC91"><circle cx="260.7" cy="1854.2" r="5.2"/></g><g id="n-CC92"><circle cx="260.7" cy="1874.5" r="5.2"/></g>
</g>
</svg>
